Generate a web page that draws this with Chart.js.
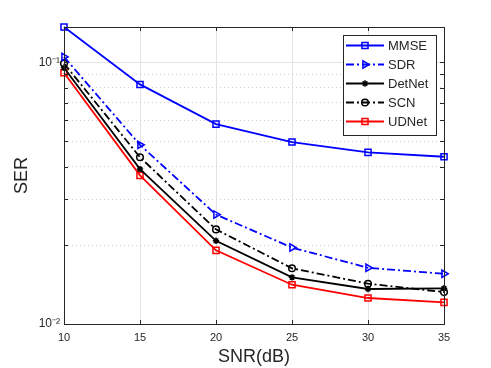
<!DOCTYPE html>
<html>
<head>
<meta charset="utf-8">
<script src="https://cdn.jsdelivr.net/npm/chart.js@4.4.1/dist/chart.umd.min.js"></script>
<style>
  html, body { margin: 0; padding: 0; background: #ffffff; }
  #wrap { width: 491px; height: 368px; position: relative; }
</style>
</head>
<body>
<div id="wrap"><canvas id="c" width="491" height="368"></canvas></div>
<script>
// ---- data ----
const snr = [10, 15, 20, 25, 30, 35];
const mmse   = [0.1366, 0.0824, 0.0581, 0.0496, 0.0453, 0.0436];
const sdr    = [0.1050, 0.0484, 0.0262, 0.0196, 0.0164, 0.01556];
const detnet = [0.0954, 0.0391, 0.0208, 0.01508, 0.01361, 0.01369];
const scn    = [0.0991, 0.0434, 0.0230, 0.01633, 0.01426, 0.01324];
const udnet  = [0.0913, 0.0370, 0.01912, 0.01413, 0.01257, 0.0121];
const seriesNames = ['MMSE', 'SDR', 'DetNet', 'SCN', 'UDNet'];
const xTicks = [10, 15, 20, 25, 30, 35];
const yTicks = [0.01, 0.02, 0.03, 0.04, 0.05, 0.06, 0.07, 0.08, 0.09, 0.1];
const yMajorLabels = { '0.01': '10⁻²', '0.1': '10⁻¹' };

const AXIS_COLOR = '#262626';
const FONT = "'Liberation Sans', Arial, Helvetica, sans-serif";
const dashDot = [8, 3, 2, 3];

function pts(arr) { return snr.map((x, i) => ({ x: x, y: arr[i] })); }

const styles = [
  { color: '#0000ff', dash: [], pointStyle: 'rect', radius: 4.3, fill: 'rgba(0,0,0,0)', rotation: 0 },
  { color: '#0000ff', dash: dashDot, pointStyle: 'triangle', radius: 4.2, fill: 'rgba(0,0,0,0)', rotation: 90 },
  { color: '#000000', dash: [], pointStyle: 'star', radius: 3.2, fill: '#000000', rotation: 0 },
  { color: '#000000', dash: dashDot, pointStyle: 'circle', radius: 3.3, fill: 'rgba(0,0,0,0)', rotation: 0 },
  { color: '#ff0000', dash: [], pointStyle: 'rect', radius: 4.3, fill: 'rgba(0,0,0,0)', rotation: 0 }
];
const values = [mmse, sdr, detnet, scn, udnet];

const datasets = values.map((v, i) => ({
  label: seriesNames[i],
  data: pts(v),
  borderColor: styles[i].color,
  backgroundColor: styles[i].fill,
  borderWidth: 1.8,
  borderDash: styles[i].dash,
  pointStyle: styles[i].pointStyle,
  pointRadius: styles[i].radius,
  pointRotation: styles[i].rotation,
  pointBorderColor: styles[i].color,
  pointBackgroundColor: styles[i].fill,
  pointBorderWidth: 1.5,
  tension: 0,
  clip: false
}));

const boxPlugin = {
  id: 'boxPlugin',
  afterDatasetsDraw(chart) {
    const ctx = chart.ctx;
    const a = chart.chartArea;
    const ys = chart.scales.y, xs = chart.scales.x;
    ctx.save();
    ctx.strokeStyle = AXIS_COLOR;
    ctx.lineWidth = 1;
    // inward ticks
    ctx.beginPath();
    const tl = 4;
    xTicks.forEach(t => {
      const px = Math.round(xs.getPixelForValue(t)) + 0.5;
      ctx.moveTo(px, a.bottom); ctx.lineTo(px, a.bottom - tl);
      ctx.moveTo(px, a.top); ctx.lineTo(px, a.top + tl);
    });
    yTicks.forEach(t => {
      const py = Math.round(ys.getPixelForValue(t)) + 0.5;
      ctx.moveTo(a.left, py); ctx.lineTo(a.left + tl, py);
      ctx.moveTo(a.right, py); ctx.lineTo(a.right - tl, py);
    });
    ctx.stroke();
    ctx.strokeRect(Math.round(a.left) + 0.5, Math.round(a.top) + 0.5,
                   Math.round(a.right - a.left), Math.round(a.bottom - a.top));
    // legend
    const lx = 343.5, ly = 35.5, lw = 93, lh = 100;
    ctx.fillStyle = '#ffffff';
    ctx.fillRect(lx, ly, lw, lh);
    ctx.strokeStyle = AXIS_COLOR;
    ctx.lineWidth = 1;
    ctx.strokeRect(lx, ly, lw, lh);
    ctx.font = '13px ' + FONT;
    ctx.textBaseline = 'middle';
    ctx.textAlign = 'left';
    chart.data.datasets.forEach((ds, i) => {
      const y = 45.5 + i * 19;
      ctx.save();
      ctx.strokeStyle = ds.borderColor;
      ctx.lineWidth = 1.8;
      ctx.setLineDash(ds.borderDash);
      ctx.beginPath();
      ctx.moveTo(346, y); ctx.lineTo(384, y);
      ctx.stroke();
      ctx.setLineDash([]);
      ctx.strokeStyle = ds.pointBorderColor;
      ctx.fillStyle = ds.pointBackgroundColor;
      ctx.lineWidth = 1.5;
      Chart.helpers.drawPoint(ctx, {
        pointStyle: ds.pointStyle, radius: ds.pointRadius,
        rotation: ds.pointRotation, borderWidth: 1.5
      }, 365, y);
      ctx.restore();
      ctx.fillStyle = AXIS_COLOR;
      ctx.fillText(ds.label, 388, y + 1);
    });
    ctx.restore();
  }
};

new Chart(document.getElementById('c'), {
  type: 'line',
  data: { datasets: datasets },
  plugins: [boxPlugin],
  options: {
    responsive: false,
    animation: false,
    devicePixelRatio: 1,
    layout: { padding: { top: 27, right: 47, left: 0, bottom: 0 } },
    plugins: { legend: { display: false }, tooltip: { enabled: false } },
    scales: {
      x: {
        type: 'linear',
        min: 10, max: 35,
        afterBuildTicks: (s) => { s.ticks = xTicks.map(v => ({ value: v })); },
        afterFit: (s) => { s.height = 44; },
        ticks: { color: AXIS_COLOR, font: { family: FONT, size: 11 }, padding: 7, maxRotation: 0 },
        grid: { color: '#e3e3e3', lineWidth: 1, drawTicks: false },
        border: { display: false },
        title: { display: true, text: 'SNR(dB)', color: AXIS_COLOR,
                 font: { family: FONT, size: 18 }, padding: { top: 0, bottom: 0 } }
      },
      y: {
        type: 'logarithmic',
        min: 0.01, max: 0.1366,
        afterBuildTicks: (s) => { s.ticks = yTicks.map(v => ({ value: v })); },
        afterFit: (s) => { s.width = 64; },
        ticks: {
          color: AXIS_COLOR, font: { family: FONT, size: 12 }, padding: 4,
          autoSkip: false,
          callback: (v) => {
            for (const k in yMajorLabels) { if (Math.abs(v - parseFloat(k)) < 1e-9) return yMajorLabels[k]; }
            return '';
          }
        },
        grid: {
          drawTicks: false,
          lineWidth: 1,
          color: (ctx) => {
            const v = ctx.tick ? ctx.tick.value : 0;
            return (Math.abs(v - 0.1) < 1e-9 || Math.abs(v - 0.01) < 1e-9) ? '#e3e3e3' : '#cfcfcf';
          }
        },
        border: {
          display: false,
          dash: (ctx) => {
            const v = ctx.tick ? ctx.tick.value : 0;
            return (Math.abs(v - 0.1) < 1e-9 || Math.abs(v - 0.01) < 1e-9) ? [] : [1, 3];
          }
        },
        title: { display: true, text: 'SER', color: AXIS_COLOR,
                 font: { family: FONT, size: 18 }, padding: { top: 11, bottom: 0 } }
      }
    }
  }
});
</script>
</body>
</html>
